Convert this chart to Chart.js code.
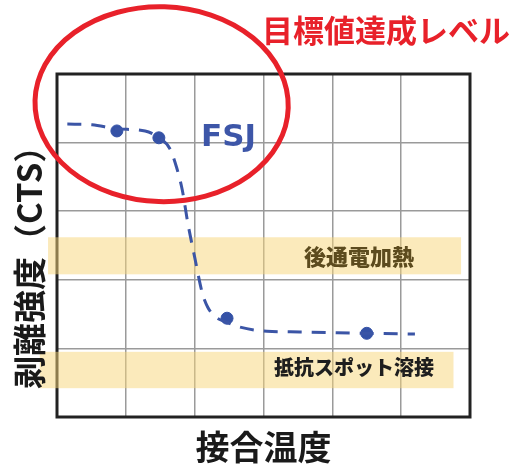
<!DOCTYPE html>
<html>
<head>
<meta charset="utf-8">
<script src="https://cdn.jsdelivr.net/npm/chart.js@4.4.0/dist/chart.umd.min.js"></script>
<style>
  html, body { margin: 0; padding: 0; background: #fff; }
  #wrap { width: 528px; height: 464px; position: relative; }
</style>
</head>
<body>
<div id="wrap"><canvas id="ctsChart"></canvas></div>
<script>
// FSJ curve (joining temperature vs peel strength)
const curveX = [0.15, 0.51, 0.87, 1.28, 1.48, 1.64, 1.74, 1.82, 1.90, 2.00, 2.11, 2.19, 2.30, 2.47, 2.66, 3.05, 3.53, 4.50, 5.20];
const curveY = [4.27, 4.26, 4.20, 4.17, 4.07, 3.91, 3.63, 3.31, 2.83, 2.33, 1.81, 1.60, 1.46, 1.38, 1.31, 1.25, 1.24, 1.22, 1.21];

// measured points on the curve
const pointX = [0.87, 1.48, 2.47, 4.50];
const pointY = [4.17, 4.07, 1.44, 1.22];

// reference bands: other processes
const bandLabels = ['後通電加熱', '抵抗スポット溶接'];
const bandLow = [2.08, 0.42];
const bandHigh = [2.62, 0.95];
const bandStart = [-0.13, -0.25];
const bandEnd = [5.87, 5.76];

const seriesLabel = 'FSJ';
const targetLabel = '目標値達成レベル';
const xTitle = '接合温度';
const yTitle = '剥離強度（CTS）';

const JP = '"Noto Sans CJK JP", "Noto Sans", sans-serif';

// frame, bands, labels, target ellipse
const overlay = {
    id: 'overlay',
    beforeDatasetsDraw(chart) {
        const { ctx, chartArea: a, scales: { x, y } } = chart;
        ctx.save();
        ctx.strokeStyle = '#222';
        ctx.lineWidth = 3;
        ctx.strokeRect(a.left, a.top, a.right - a.left, a.bottom - a.top);

        bandLabels.forEach((label, i) => {
            const x0 = x.getPixelForValue(bandStart[i]);
            const x1 = x.getPixelForValue(bandEnd[i]);
            const y0 = y.getPixelForValue(bandHigh[i]);
            const y1 = y.getPixelForValue(bandLow[i]);
            ctx.fillStyle = 'rgba(248, 214, 120, 0.5)';
            ctx.fillRect(x0, y0, x1 - x0, y1 - y0);
        });

        ctx.textBaseline = 'middle';
        ctx.textAlign = 'left';
        ctx.fillStyle = '#5c4b1e';
        ctx.font = '900 22px ' + JP;
        ctx.fillText(bandLabels[0], a.left + 247, (y.getPixelForValue(bandHigh[0]) + y.getPixelForValue(bandLow[0])) / 2 + 1);
        ctx.fillStyle = '#1e1e1e';
        ctx.font = '900 20px ' + JP;
        ctx.fillText(bandLabels[1], a.left + 217, (y.getPixelForValue(bandHigh[1]) + y.getPixelForValue(bandLow[1])) / 2 - 3);
        ctx.restore();
    },
    afterDraw(chart) {
        const { ctx, chartArea: a, scales: { x, y } } = chart;
        ctx.save();
        // y axis title, rotated
        ctx.translate(29, 389);
        ctx.rotate(-Math.PI / 2);
        ctx.fillStyle = '#1a1a1a';
        ctx.font = 'bold 33px ' + JP;
        ctx.textAlign = 'left';
        ctx.textBaseline = 'middle';
        ctx.fillText(yTitle, 0, 0);
        ctx.restore();

        ctx.save();
        // series name
        ctx.fillStyle = '#3d56a8';
        ctx.font = 'bold 31px "DejaVu Sans", sans-serif';
        ctx.textBaseline = 'alphabetic';
        ctx.fillText(seriesLabel, a.left + 144, 146);

        // target level ellipse + caption
        const cx = x.getPixelForValue(1.52);
        const cy = y.getPixelForValue(4.56);
        const rx = x.getPixelForValue(1.52 + 1.84) - cx;
        const ry = cy - y.getPixelForValue(4.56 + 1.42);
        ctx.strokeStyle = '#e8212a';
        ctx.lineWidth = 5;
        ctx.beginPath();
        ctx.ellipse(cx, cy, rx, ry, 0.03, 0, Math.PI * 2);
        ctx.stroke();

        ctx.fillStyle = '#e8212a';
        ctx.font = 'bold 31px ' + JP;
        ctx.textBaseline = 'middle';
        ctx.fillText(targetLabel, 262, 30);
        ctx.restore();
    }
};

const ctx = document.getElementById('ctsChart').getContext('2d');

const chart = new Chart(ctx, {
    type: 'scatter',
    data: {
        datasets: [{
            label: seriesLabel,
            data: curveX.map((v, i) => ({ x: v, y: curveY[i] })),
            showLine: true,
            borderColor: '#3b55a6',
            borderWidth: 3,
            borderDash: [14, 10],
            pointRadius: 0,
            tension: 0.4,
            cubicInterpolationMode: 'monotone',
            fill: false
        }, {
            label: seriesLabel + ' points',
            data: pointX.map((v, i) => ({ x: v, y: pointY[i] })),
            backgroundColor: '#3552a6',
            borderColor: '#3552a6',
            pointRadius: 6,
            pointHoverRadius: 6
        }]
    },
    options: {
        responsive: true,
        maintainAspectRatio: false,
        animation: false,
        layout: {
            padding: { left: 57, right: 58, top: 74, bottom: 0 }
        },
        plugins: {
            legend: { display: false },
            tooltip: { enabled: false }
        },
        scales: {
            x: {
                type: 'linear',
                min: 0,
                max: 6,
                ticks: { display: false, stepSize: 1 },
                grid: { color: '#9a9a9a', lineWidth: 1.5, drawTicks: false },
                border: { display: false },
                title: {
                    display: true,
                    text: xTitle,
                    color: '#1a1a1a',
                    font: { family: JP, size: 34, weight: 'bold', lineHeight: 1 },
                    padding: { top: 13, bottom: 0 }
                }
            },
            y: {
                type: 'linear',
                min: 0,
                max: 5,
                ticks: { display: false, stepSize: 1 },
                grid: { color: '#9a9a9a', lineWidth: 1.5, drawTicks: false },
                border: { display: false }
            }
        }
    },
    plugins: [overlay]
});
</script>
</body>
</html>
